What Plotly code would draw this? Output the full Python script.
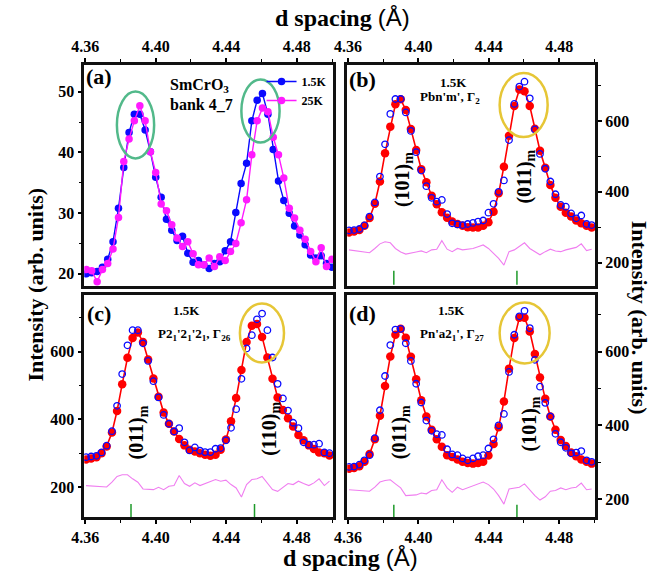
import plotly.graph_objects as go

# ---------------- data ----------------
# panel (a): raw data, SmCrO3 bank 4_7
d_a = [4.3607, 4.3637, 4.3668, 4.3698, 4.3728, 4.3758, 4.3789, 4.3819, 4.3849, 4.3879,
       4.3910, 4.3940, 4.3970, 4.4000, 4.4031, 4.4061, 4.4091, 4.4121, 4.4152, 4.4182,
       4.4212, 4.4242, 4.4273, 4.4303, 4.4333, 4.4363, 4.4394, 4.4424, 4.4454, 4.4484,
       4.4515, 4.4545, 4.4575, 4.4605, 4.4636, 4.4666, 4.4696, 4.4726, 4.4757, 4.4787,
       4.4817, 4.4847, 4.4878, 4.4908, 4.4938, 4.4968, 4.4999]
a_1p5K = [20.0, 20.2, 20.4, 21.1, 22.4, 25.3, 30.8, 37.5, 43.3, 46.3,
          46.3, 43.7, 40.1, 35.9, 32.6, 29.0, 27.2, 25.5, 26.2, 23.4,
          21.9, 22.2, 21.5, 20.9, 21.7, 22.0, 23.8, 25.3, 30.1, 34.9,
          38.2, 45.2, 48.6, 49.7, 46.3, 40.5, 35.3, 32.1, 30.0, 27.9,
          26.4, 24.8, 23.1, 22.6, 23.0, 21.7, 21.1]
a_25K = [20.7, 20.5, 18.7, 20.7, 21.7, 24.1, 29.3, 38.5, 42.2, 45.2,
         47.7, 45.2, 40.1, 36.7, 31.5, 30.4, 28.1, 25.9, 24.5, 25.3,
         23.3, 21.5, 21.5, 22.6, 21.2, 22.8, 22.2, 23.7, 25.0, 28.4,
         32.2, 39.6, 45.2, 47.3, 46.7, 42.5, 39.6, 35.8, 30.8, 29.2,
         27.2, 25.7, 23.7, 22.0, 24.3, 21.2, 22.4]

# panels (b)-(d): refinement at 1.5K
d_fit = [4.3605, 4.3634, 4.3664, 4.3693, 4.3722, 4.3752, 4.3781, 4.3810, 4.3840, 4.3869,
         4.3899, 4.3928, 4.3957, 4.3987, 4.4016, 4.4045, 4.4075, 4.4104, 4.4133, 4.4163,
         4.4192, 4.4222, 4.4251, 4.4280, 4.4310, 4.4339, 4.4368, 4.4398, 4.4427, 4.4456,
         4.4486, 4.4515, 4.4545, 4.4574, 4.4603, 4.4633, 4.4662, 4.4691, 4.4721, 4.4750,
         4.4779, 4.4809, 4.4838, 4.4868, 4.4897, 4.4926, 4.4956, 4.4985]

calc_b = [285, 288, 292, 304, 326, 366, 429, 509, 584, 647,
          661, 631, 577, 518, 464, 427, 389, 365, 342, 327,
          316, 309, 304, 300, 299, 299, 304, 314, 344, 396,
          471, 558, 642, 689, 684, 642, 578, 516, 468, 419,
          383, 358, 341, 330, 319, 311, 304, 299]
obs_b = [291, 292, 295, 305, 330, 370, 443, 534, 620, 662,
         662, 624, 572, 512, 460, 416, 383, 372, 377, 337,
         311, 308, 306, 309, 312, 316, 319, 341, 366, 400,
         432, 546, 648, 697, 711, 664, 576, 507, 465, 429,
         393, 363, 358, 339, 325, 333, 309, 306]
diff_b = [236, 234, 232, 230, 228, 240, 253, 259, 256, 240,
          230, 224, 228, 230, 233, 228, 236, 238, 262, 238,
          231, 240, 236, 238, 240, 245, 250, 240, 226, 212,
          193, 231, 236, 245, 256, 240, 231, 222, 231, 238,
          233, 231, 236, 239, 243, 253, 234, 238]

calc_c = [281, 284, 288, 300, 320, 361, 425, 504, 582, 641,
          657, 629, 577, 521, 467, 420, 387, 364, 342, 323,
          310, 305, 300, 295, 292, 295, 310, 340, 394, 463,
          546, 629, 677, 682, 644, 583, 520, 465, 428, 403,
          379, 354, 338, 323, 312, 302, 300, 293]
obs_c = [288, 290, 292, 302, 322, 365, 440, 534, 619, 664,
         664, 625, 573, 513, 465, 413, 387, 364, 374, 332,
         308, 317, 307, 303, 303, 313, 315, 338, 375, 430,
         520, 610, 649, 696, 713, 664, 583, 505, 462, 426,
         390, 374, 332, 325, 325, 328, 302, 300]
diff_c = [204, 203, 202, 201, 200, 214, 231, 236, 236, 224,
          214, 194, 192, 192, 199, 192, 202, 204, 234, 210,
          202, 212, 204, 210, 217, 222, 217, 220, 207, 197,
          170, 207, 222, 224, 231, 210, 192, 187, 200, 210,
          207, 217, 210, 204, 212, 224, 204, 217]

calc_d = [282, 284, 289, 301, 322, 362, 426, 507, 587, 646,
          662, 638, 586, 525, 468, 424, 388, 362, 342, 319,
          314, 307, 301, 298, 296, 298, 301, 318, 349, 395,
          465, 554, 637, 692, 692, 655, 594, 530, 472, 424,
          388, 360, 344, 326, 316, 307, 301, 296]
obs_d = [287, 288, 293, 305, 319, 365, 441, 534, 618, 660,
         662, 623, 575, 513, 462, 413, 385, 376, 374, 335,
         321, 319, 310, 305, 310, 316, 319, 337, 362, 400,
         431, 545, 646, 696, 711, 664, 578, 505, 461, 424,
         377, 354, 339, 324, 326, 330, 305, 301]
diff_d = [225, 224, 223, 221, 221, 232, 246, 250, 252, 241,
          230, 209, 209, 211, 216, 214, 223, 225, 252, 230,
          218, 232, 225, 230, 234, 239, 246, 239, 227, 209,
          186, 227, 230, 232, 241, 225, 209, 197, 206, 221,
          223, 230, 225, 230, 232, 243, 225, 227]

# Bragg reflection positions (magnetic peaks) and the level of their tick row
bragg_d = [4.386, 4.456]
bragg_level = {"b": 157, "c": 129, "d": 165}

x_tickvals = [4.36, 4.40, 4.44, 4.48]
x_ticktext = ["4.36", "4.40", "4.44", "4.48"]
x_minor = [4.38, 4.42, 4.46, 4.50]
ya_tickvals = [20, 30, 40, 50]
ya_minor = [25, 35, 45]
yi_tickvals = [200, 400, 600]
yi_minor = [300, 500, 700]

# ---------------- styling ----------------
W, H = 654, 579
def PX(p): return p / W
def PY(p): return 1 - p / H

SERIF = "Liberation Serif"
BLUE = "#0a0aff"
MAG = "#ff1aff"
RED = "#ff0000"
DIFF = "#f07ef0"
GREEN = "#1e9a2a"
ELL_GREEN = "#52b98a"
ELL_YEL = "#e6c636"

fig = go.Figure()

# panel (a)
fig.add_trace(go.Scatter(x=d_a, y=a_1p5K, mode="lines+markers", name="1.5K",
                         line=dict(color=BLUE, width=1.4),
                         marker=dict(size=7.5, color=BLUE), xaxis="x", yaxis="y"))
fig.add_trace(go.Scatter(x=d_a, y=a_25K, mode="lines+markers", name="25K",
                         line=dict(color=MAG, width=1.4),
                         marker=dict(size=7.5, color=MAG), xaxis="x", yaxis="y"))

panels = [("b", "x2", "y2", calc_b, obs_b, diff_b),
          ("c", "x3", "y3", calc_c, obs_c, diff_c),
          ("d", "x4", "y4", calc_d, obs_d, diff_d)]
for key, xa, ya, calc, obs, diff in panels:
    fig.add_trace(go.Scatter(x=d_fit, y=diff, mode="lines", showlegend=False,
                             line=dict(color=DIFF, width=1.1), xaxis=xa, yaxis=ya))
    fig.add_trace(go.Scatter(x=d_fit, y=calc, mode="lines+markers", showlegend=False,
                             line=dict(color=RED, width=1.6),
                             marker=dict(size=8.5, color=RED), xaxis=xa, yaxis=ya))
    fig.add_trace(go.Scatter(x=d_fit, y=obs, mode="markers", showlegend=False,
                             marker=dict(size=6.5, symbol="circle-open", color=BLUE,
                                         line=dict(width=1.3, color=BLUE)),
                             xaxis=xa, yaxis=ya))
    fig.add_trace(go.Scatter(x=bragg_d, y=[bragg_level[key]] * len(bragg_d), mode="markers",
                             showlegend=False,
                             marker=dict(symbol="line-ns", size=10,
                                         line=dict(width=1.5, color=GREEN)),
                             xaxis=xa, yaxis=ya))

tickfont = dict(family=SERIF, size=16, color="black", weight="bold")

def xax(domain, anchor, side):
    return dict(domain=domain, anchor=anchor, side=side, range=[4.3595, 4.5005],
                tickmode="array", tickvals=x_tickvals, ticktext=x_ticktext,
                ticks="outside", ticklen=4, tickwidth=1.5, tickcolor="black",
                minor=dict(tickmode="array", tickvals=x_minor, ticks="outside",
                           ticklen=3, tickwidth=1.2, tickcolor="black"),
                showline=True, mirror=True, linewidth=2.5, linecolor="#111",
                showgrid=False, zeroline=False, tickfont=tickfont)

def yax(domain, anchor, side, rng, tv, mv):
    return dict(domain=domain, anchor=anchor, side=side, range=rng,
                tickmode="array", tickvals=tv, ticktext=[str(v) for v in tv],
                ticks="outside", ticklen=4, tickwidth=1.5, tickcolor="black",
                minor=dict(tickmode="array", tickvals=mv, ticks="outside",
                           ticklen=3, tickwidth=1.2, tickcolor="black"),
                showline=True, mirror=True, linewidth=2.5, linecolor="#111",
                showgrid=False, zeroline=False, tickfont=tickfont)

XL = [PX(72.7), PX(326.5)]
XR = [PX(341), PX(594)]
YT = [PY(286), PY(65)]
YB = [PY(517), PY(295)]

fig.update_layout(
    width=W, height=H, margin=dict(l=0, r=0, t=0, b=0),
    paper_bgcolor="white", plot_bgcolor="white",
    xaxis=xax(XL, "y", "top"),
    yaxis=yax(YT, "x", "left", [18.0, 54.4], ya_tickvals, ya_minor),
    xaxis2=xax(XR, "y2", "top"),
    yaxis2=yax(YT, "x2", "right", [134, 758], yi_tickvals, yi_minor),
    xaxis3=xax(XL, "y3", "bottom"),
    yaxis3=yax(YB, "x3", "left", [111, 768], yi_tickvals, yi_minor),
    xaxis4=xax(XR, "y4", "bottom"),
    yaxis4=yax(YB, "x4", "right", [151, 754], yi_tickvals, yi_minor),
    legend=dict(x=PX(325), xanchor="right", y=PY(67), yanchor="top",
                bgcolor="rgba(0,0,0,0)", itemwidth=30, tracegroupgap=0,
                font=dict(family=SERIF, size=12, color="black", weight="bold")),
    showlegend=True,
)

def ellipse(cx, cy, w, h, color):
    return dict(type="circle", xref="paper", yref="paper",
                x0=PX(cx - w / 2), x1=PX(cx + w / 2),
                y0=PY(cy + h / 2), y1=PY(cy - h / 2),
                line=dict(color=color, width=2.5))

fig.update_layout(shapes=[
    ellipse(125, 125, 38, 67, ELL_GREEN),
    ellipse(252.5, 111, 39, 63, ELL_GREEN),
    ellipse(521, 105, 49, 64, ELL_YEL),
    ellipse(254, 333, 45, 59, ELL_YEL),
    ellipse(522, 333, 51, 61, ELL_YEL),
])

def ann(text, x, y, size, angle=0, weight="bold", family=SERIF):
    return dict(text=text, x=PX(x), y=PY(y), xref="paper", yref="paper",
                showarrow=False, textangle=angle, xanchor="center", yanchor="middle",
                font=dict(family=family, size=size, color="black", weight=weight))

annots = [
    ann("(a)", 88, 77, 22),
    ann("SmCrO<sub>3</sub>", 190, 85, 16),
    ann("bank 4_7", 192, 104, 16),
    ann("(b)", 357, 80, 22),
    ann("1.5K", 449, 82, 13),
    ann("Pbn'm', Γ<sub>2</sub>", 446, 98, 13),
    ann("(c)", 88, 313, 22),
    ann("1.5K", 177, 311, 13),
    ann("P2<sub>1</sub>'2<sub>1</sub>'2<sub>1</sub>, Γ<sub>26</sub>", 185, 334, 13),
    ann("(d)", 357, 313, 22),
    ann("1.5K", 447, 311, 13),
    ann("Pn'a2<sub>1</sub>', Γ<sub>27</sub>", 448, 334, 13),
    ann("(101)<sub>m</sub>", 398, 180, 20, -90),
    ann("(011)<sub>m</sub>", 522, 177, 20, -90),
    ann("(011)<sub>m</sub>", 127, 432, 20, -90),
    ann("(110)<sub>m</sub>", 262, 429, 20, -90),
    ann("(011)<sub>m</sub>", 395, 432, 20, -90),
    ann("(101)<sub>m</sub>", 527, 424, 20, -90),
    ann("<b>d spacing</b> <span style='font-family:Liberation Sans'>(Å)</span>", 336, 17, 24,
        weight="normal"),
    ann("<b>d spacing</b> <span style='font-family:Liberation Sans'>(Å)</span>", 344, 557, 24,
        weight="normal"),
    ann("Intensity (arb. units)", 22, 285, 22, -90),
    ann("Intensity (arb. units)", 640, 318, 22, 90),
]
fig.update_layout(annotations=annots)

fig.write_html("out.html")
